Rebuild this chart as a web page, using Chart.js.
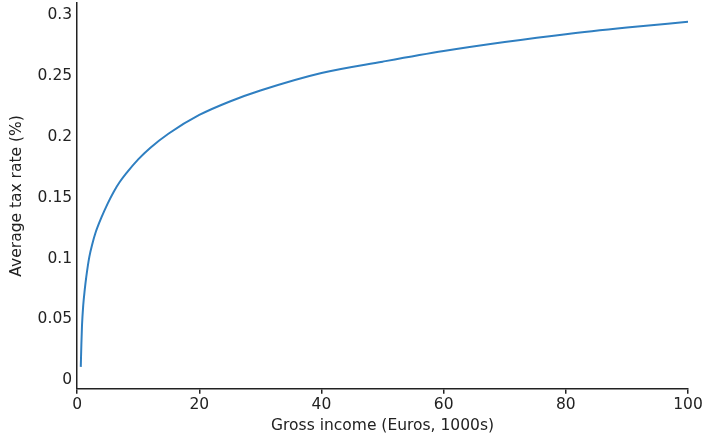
<!DOCTYPE html>
<html>
<head>
<meta charset="utf-8">
<script src="https://cdn.jsdelivr.net/npm/chart.js@4.4.0/dist/chart.umd.min.js"></script>
<style>
html,body{margin:0;padding:0;background:#fff;}
#wrap{width:703px;height:437px;}
</style>
</head>
<body>
<div id="wrap"><canvas id="taxChart" width="703" height="437"></canvas></div>
<script>
// gross income in thousands of euros, and the average tax rate
const income=[0.6,0.7,0.8,1,1.25,1.5,2,2.5,3,4,5,6,7,8,10,12,15,20,25,30,40,50,60,70,80,90,100];
const avgRate=[0.011,0.030,0.045,0.0615,0.0745,0.085,0.1014,0.1122,0.121,0.134,0.1452,0.155,0.1631,0.1698,0.1815,0.1911,0.2028,0.218,0.2291,0.2381,0.2525,0.2618,0.2705,0.2779,0.2844,0.2898,0.2946];
const xTicks=[0,20,40,60,80,100];
const yTicks=[0,0.05,0.1,0.15,0.2,0.25,0.3];

const font={family:'"DejaVu Sans", Verdana, sans-serif',size:15.5};
const ink='#222';

document.addEventListener('DOMContentLoaded',()=>{
  const ctx=document.getElementById('taxChart');
  new Chart(ctx,{
    type:'scatter',
    data:{datasets:[{
      data:income.map((x,i)=>({x,y:avgRate[i]})),
      showLine:true,borderColor:'#2f7fc1',borderWidth:2,pointRadius:0,
      cubicInterpolationMode:'monotone',fill:false
    }]},
    options:{
      responsive:false,animation:false,
      layout:{padding:{top:3,right:0,left:8,bottom:2}},
      plugins:{legend:{display:false},tooltip:{enabled:false}},
      scales:{
        x:{type:'linear',min:0,max:100,
          afterBuildTicks:s=>{s.ticks=xTicks.map(v=>({value:v}));},
          afterFit:s=>{s.paddingRight=15;},
          ticks:{color:ink,font,padding:2,maxRotation:0},
          grid:{display:true,drawOnChartArea:false,drawTicks:true,tickLength:5,color:ink,lineWidth:1.5},
          border:{display:true,color:ink,width:1.5},
          title:{display:true,text:'Gross income (Euros, 1000s)',color:ink,font,padding:{top:0,bottom:0}}
        },
        y:{type:'linear',min:-0.007,max:0.31,
          afterBuildTicks:s=>{s.ticks=yTicks.map(v=>({value:v}));},
          afterFit:s=>{s.paddingTop=0;s.paddingBottom=0;},
          ticks:{color:ink,font,padding:5,callback:v=>String(+v.toFixed(2))},
          grid:{display:true,drawOnChartArea:false,drawTicks:false},
          border:{display:true,color:ink,width:1.5},
          title:{display:true,text:'Average tax rate (%)',color:ink,font,padding:{top:0,bottom:6}}
        }
      }
    }
  });
});
</script>
</body>
</html>
